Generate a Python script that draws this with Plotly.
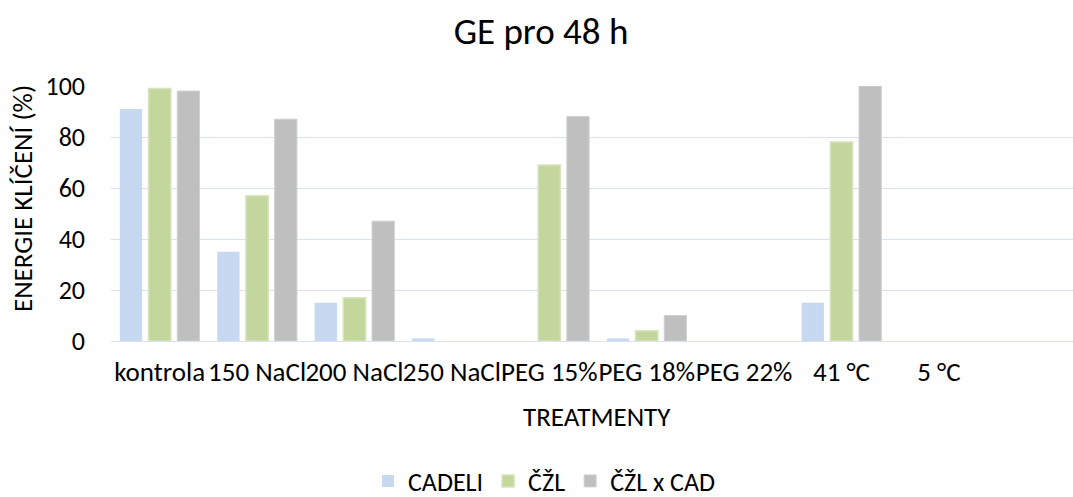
import plotly.graph_objects as go

# Germination energy after 48 h per treatment and genotype
categories = ["kontrola", "150 NaCl", "200 NaCl", "250 NaCl", "PEG 15%",
              "PEG 18%", "PEG 22%", "41 °C", "5 °C"]
cadeli = [91, 35, 15, 1, 0, 1, 0, 15, 0]
czl = [99, 57, 17, 0, 69, 4, 0, 78, 0]
czl_x_cad = [98, 87, 47, 0, 88, 10, 0, 100, 0]
y_ticks = [0, 20, 40, 60, 80, 100]

FONT = "Carlito, Lato, sans-serif"
W, H = 1073, 497
L, R, T, B = 111, 0, 86, 156


def outline(values, width):
    # no outline on empty bars, so zero values leave no stub on the axis
    return [width if v > 0 else 0 for v in values]


fig = go.Figure()
fig.add_trace(go.Bar(name="CADELI", x=categories, y=cadeli,
                     marker=dict(color="#c6d9f1", line=dict(width=0))))
fig.add_trace(go.Bar(name="ČŽL", x=categories, y=czl,
                     marker=dict(color="#c3d69b",
                                 line=dict(color="#d7e4bd", width=outline(czl, 1.5)))))
fig.add_trace(go.Bar(name="ČŽL x CAD", x=categories, y=czl_x_cad,
                     marker=dict(color="#bfbfbf",
                                 line=dict(color="#d0d0d0", width=outline(czl_x_cad, 1)))))

plot_w = W - L - R
plot_h = H - T - B

fig.update_layout(
    width=W, height=H,
    margin=dict(l=L, r=R, t=T, b=B, autoexpand=False),
    paper_bgcolor="white", plot_bgcolor="white",
    barmode="group", bargap=0.116, bargroupgap=0.223,
    font=dict(family=FONT, size=27, color="#000000"),
    title=dict(text="GE pro 48 h", x=541 / W, xanchor="center",
               y=1 - 31 / H, yref="container", yanchor="middle",
               font=dict(size=37, family=FONT, color="#000000")),
    xaxis=dict(type="category", range=[-0.5, 9.377], tickangle=0,
               showgrid=False, showline=False, ticks="",
               ticklabelstandoff=12, tickfont=dict(size=27),
               automargin=False),
    yaxis=dict(range=[0, 100], tickvals=y_ticks, showgrid=True,
               gridcolor="#d9e2f1", gridwidth=1.3, zeroline=True,
               zerolinecolor="#d9e2f1", zerolinewidth=1.3,
               showline=False, ticks="", ticklabelstandoff=25,
               tickfont=dict(size=26), automargin=False),
    legend=dict(orientation="h", x=(368 - L) / plot_w, xanchor="left",
                y=-(481 - T - plot_h) / plot_h, yanchor="middle",
                font=dict(size=26), itemwidth=30, bgcolor="rgba(0,0,0,0)",
                borderwidth=0, tracegroupgap=0),
    showlegend=True,
    annotations=[
        dict(text="ENERGIE KLÍČENÍ (%)", textangle=-90, xref="paper", yref="paper",
             x=(22 - L) / plot_w, y=(T + plot_h - 199) / plot_h,
             xanchor="center", yanchor="middle", showarrow=False,
             font=dict(size=27, family=FONT, color="#000000")),
        dict(text="TREATMENTY", xref="paper", yref="paper",
             x=(597 - L) / plot_w, y=-(416 - T - plot_h) / plot_h,
             xanchor="center", yanchor="middle", showarrow=False,
             font=dict(size=27, family=FONT, color="#000000")),
    ],
)

fig.write_html("out.html")
